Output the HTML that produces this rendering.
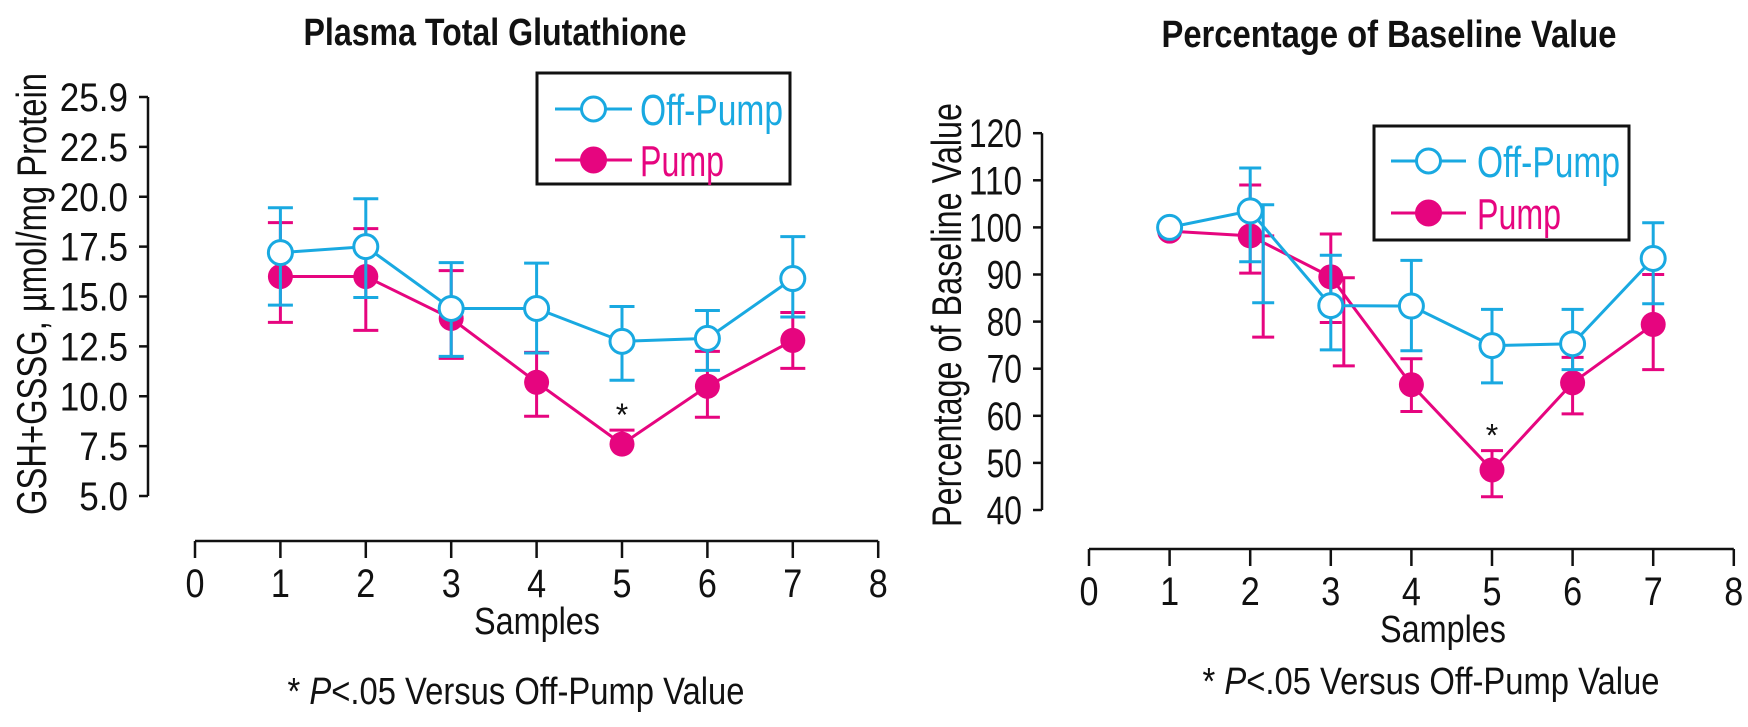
<!DOCTYPE html>
<html><head><meta charset="utf-8"><style>
html,body{margin:0;padding:0;background:#fff;}
svg{display:block;font-family:"Liberation Sans",sans-serif;}
</style></head><body>
<svg id="chart" width="1748" height="727" viewBox="0 0 1748 727" xmlns="http://www.w3.org/2000/svg"></svg>
<script>
// ---------- data ----------
const samples = [1,2,3,4,5,6,7];
const xTicks = [0,1,2,3,4,5,6,7,8];
const leftYTicks = [5,7.5,10,12.5,15,17.5,20,22.5,25];
const leftYTickLabels = ["5.0","7.5","10.0","12.5","15.0","17.5","20.0","22.5","25.9"];
const leftOff = [17.2,17.5,14.4,14.4,12.75,12.9,15.9];
const leftOffHi = [19.45,19.9,16.7,16.67,14.5,14.3,18.0];
const leftOffLo = [14.57,14.95,12.0,12.17,10.8,11.3,13.97];
const leftPump = [16.0,16.0,13.9,10.7,7.6,10.5,12.8];
const leftPumpHi = [18.7,18.4,16.3,12.2,8.3,12.25,14.2];
const leftPumpLo = [13.7,13.3,11.9,9.0,null,8.95,11.4];
const rightYTicks = [40,50,60,70,80,90,100,110,120];
const rightYTickLabels = ["40","50","60","70","80","90","100","110","120"];
const rightOff = [100,103.5,83.4,83.3,74.9,75.3,93.4];
const rightOffHi = [null,112.6,94.1,93.0,82.6,82.6,101.0];
const rightOffLo = [null,92.7,74.0,73.8,67.0,69.8,83.8];
const rightPump = [99.2,98.2,89.5,66.6,48.5,67.0,79.4];
const rightPumpHi = [null,109.0,98.6,72.1,52.6,72.4,90.0];
const rightPumpLo = [null,90.3,79.8,60.9,42.8,60.4,69.8];
const altSample = [2,2,3];
const altSeries = ["off","pump","pump"];
const altHi = [104.8,98.2,89.3];
const altLo = [84.0,76.7,70.6];
const sigSample = [5];

// ---------- helpers ----------
const NS="http://www.w3.org/2000/svg";
const svg=document.getElementById('chart');
const CY="#19a9e1", PK="#e6057f";
function el(tag,attrs,parent){const e=document.createElementNS(NS,tag);for(const k in attrs)e.setAttribute(k,attrs[k]);(parent||svg).appendChild(e);return e;}
function txt(parent,x,y,s,size,anchor,len,extra){
  const t=el('text',Object.assign({x:x,y:y,'font-size':size,'text-anchor':anchor||'start',fill:'#111'},extra||{}),parent);
  t.textContent=s;
  if(len){t.setAttribute('textLength',len);t.setAttribute('lengthAdjust','spacingAndGlyphs');}
  return t;
}

function panel(cfg){
  const g=el('g',{});
  
  
  const yv=v=>cfg.y0-(v-cfg.v0)*cfg.ppu;
  const xv=v=>cfg.x0+v*cfg.xpu;
  const tt=txt(g,cfg.titleX,cfg.titleY,cfg.title,38,'middle',cfg.titleLen,{'font-weight':'bold'});
  
  
  const ya=el('g',{},g);
  
  
  const yTop=yv(cfg.yTicks[cfg.yTicks.length-1]), yBot=yv(cfg.yTicks[0]);
  el('line',{x1:cfg.yAxisX,y1:yTop,x2:cfg.yAxisX,y2:yBot,stroke:'#111','stroke-width':2.5},ya);
  cfg.yTicks.forEach((v,i)=>{
    const y=yv(v);
    el('line',{x1:cfg.yAxisX-9,y1:y,x2:cfg.yAxisX,y2:y,stroke:'#111','stroke-width':2.5},ya);
    const lab=cfg.yLabels[i];
    const t=txt(ya,cfg.yAxisX-20,y+14,lab,40,'end',lab.length*cfg.digitW - (lab.includes('.')?cfg.digitW*0.5:0));
    
    
  });
  const yt=txt(ya,0,0,cfg.yTitle,42,'middle',cfg.yTitleLen,{transform:`translate(${cfg.yTitleX},${cfg.yTitleY}) rotate(-90)`});
  
  
  const xa=el('g',{},g);
  
  
  el('line',{x1:xv(xTicks[0]),y1:cfg.xAxisY,x2:xv(xTicks[xTicks.length-1]),y2:cfg.xAxisY,stroke:'#111','stroke-width':2.5},xa);
  xTicks.forEach(v=>{
    const x=xv(v);
    el('line',{x1:x,y1:cfg.xAxisY,x2:x,y2:cfg.xAxisY+17,stroke:'#111','stroke-width':2.5},xa);
    const t=txt(xa,x,cfg.xLabY,String(v),40,'middle',19);
    
    
  });
  const xt=txt(xa,cfg.samplesX,cfg.samplesY,'Samples',38,'middle',126);
  
  
  const fn=el('text',{x:cfg.fnX,y:cfg.fnY,'font-size':38,'text-anchor':'middle',fill:'#111',textLength:457,lengthAdjust:'spacingAndGlyphs'},g);
  
  
  const s1=el('tspan',{},fn);s1.textContent='* ';
  const s2=el('tspan',{'font-style':'italic'},fn);s2.textContent='P';
  const s3=el('tspan',{},fn);s3.textContent='<.05 Versus Off-Pump Value';
  function series(vals,hi,lo,color,filled,name){
    const sg=el('g',{},g);
    
    
    vals.forEach((v,i)=>{
      const x=xv(samples[i]);
      if(hi[i]!=null){
        el('line',{x1:x,y1:yv(hi[i]),x2:x,y2:yv(v),stroke:color,'stroke-width':3},sg);
        el('line',{x1:x-cfg.cap,y1:yv(hi[i]),x2:x+cfg.cap,y2:yv(hi[i]),stroke:color,'stroke-width':3},sg);
      }
      if(lo[i]!=null){
        el('line',{x1:x,y1:yv(lo[i]),x2:x,y2:yv(v),stroke:color,'stroke-width':3},sg);
        el('line',{x1:x-cfg.cap,y1:yv(lo[i]),x2:x+cfg.cap,y2:yv(lo[i]),stroke:color,'stroke-width':3},sg);
      }
    });
    const pts=vals.map((v,i)=>xv(samples[i])+','+yv(v)).join(' ');
    el('polyline',{points:pts,fill:'none',stroke:color,'stroke-width':3},sg);
    return sg;
  }
  const sp=series(cfg.pump,cfg.pumpHi,cfg.pumpLo,PK,true,'pump-series');
  const so=series(cfg.off,cfg.offHi,cfg.offLo,CY,false,'off-pump-series');
  if(cfg.alt){
    altSample.forEach((s,i)=>{
      const color=altSeries[i]==='off'?CY:PK;
      const x=xv(s)+13;
      const ag=altSeries[i]==='off'?so:sp;
      el('line',{x1:x,y1:yv(altHi[i]),x2:x,y2:yv(altLo[i]),stroke:color,'stroke-width':3},ag);
      el('line',{x1:x-cfg.cap,y1:yv(altLo[i]),x2:x+cfg.cap,y2:yv(altLo[i]),stroke:color,'stroke-width':3},ag);
      el('line',{x1:x-cfg.cap,y1:yv(altHi[i]),x2:x+cfg.cap,y2:yv(altHi[i]),stroke:color,'stroke-width':3},ag);
    });
  }
  cfg.pump.forEach((v,i)=>{
    const c=el('circle',{cx:xv(samples[i]),cy:yv(v),r:12.5,fill:PK},sp);
    
    
  });
  cfg.off.forEach((v,i)=>{
    const c=el('circle',{cx:xv(samples[i]),cy:yv(v),r:12,fill:'#fff',stroke:CY,'stroke-width':3},so);
    
    
  });
  sigSample.forEach(s=>{
    const i=samples.indexOf(s);
    const a=txt(g,xv(s),yv(cfg.pumpHi[i])-4,'*',32,'middle');
    
    
  });
  const L=cfg.legend;
  const lg=el('g',{},g);
  
  
  el('rect',{x:L.x,y:L.y,width:L.w,height:L.h,fill:'#fff',stroke:'#111','stroke-width':3},lg);
  [[L.r1,CY,false,'Off-Pump'],[L.r2,PK,true,'Pump']].forEach(([ry,color,filled,label])=>{
    const e=el('g',{},lg);
    
    
    el('line',{x1:L.lx1,y1:ry,x2:L.lx2,y2:ry,stroke:color,'stroke-width':3},e);
    el('circle',{cx:(L.lx1+L.lx2)/2,cy:ry,r:12,fill:filled?color:'#fff',stroke:color,'stroke-width':3},e);
    txt(e,L.tx,ry+16,label,44,'start',label==='Pump'?84:143,{fill:color});
  });
}

panel({name:'left-chart',title:'Plasma Total Glutathione',titleX:495,titleY:45,titleLen:383,
  x0:195,xpu:85.4,xAxisY:541,xLabY:597,samplesX:537,samplesY:634,fnX:516,fnY:704,
  y0:496,v0:5,ppu:19.95,yAxisX:148,yTicks:leftYTicks,yLabels:leftYTickLabels,digitW:19.5,
  yTitle:'GSH+GSSG, \u00b5mol/mg Protein',yTitleX:46,yTitleY:294,yTitleLen:442,
  off:leftOff,offHi:leftOffHi,offLo:leftOffLo,pump:leftPump,pumpHi:leftPumpHi,pumpLo:leftPumpLo,cap:12.5,
  legend:{x:537,y:73,w:253,h:111,lx1:555,lx2:632,tx:640,r1:109,r2:160}});
panel({name:'right-chart',title:'Percentage of Baseline Value',titleX:1389,titleY:47,titleLen:455,
  x0:1089,xpu:80.6,xAxisY:549,xLabY:605,samplesX:1443,samplesY:642,fnX:1431,fnY:694,
  y0:510,v0:40,ppu:4.71,yAxisX:1042,yTicks:rightYTicks,yLabels:rightYTickLabels,digitW:17.7,
  yTitle:'Percentage of Baseline Value',yTitleX:961,yTitleY:315,yTitleLen:424,
  off:rightOff,offHi:rightOffHi,offLo:rightOffLo,pump:rightPump,pumpHi:rightPumpHi,pumpLo:rightPumpLo,cap:11,alt:true,
  legend:{x:1374,y:126,w:255,h:114,lx1:1391,lx2:1466,tx:1477,r1:161,r2:213}});
</script>
</body></html>
